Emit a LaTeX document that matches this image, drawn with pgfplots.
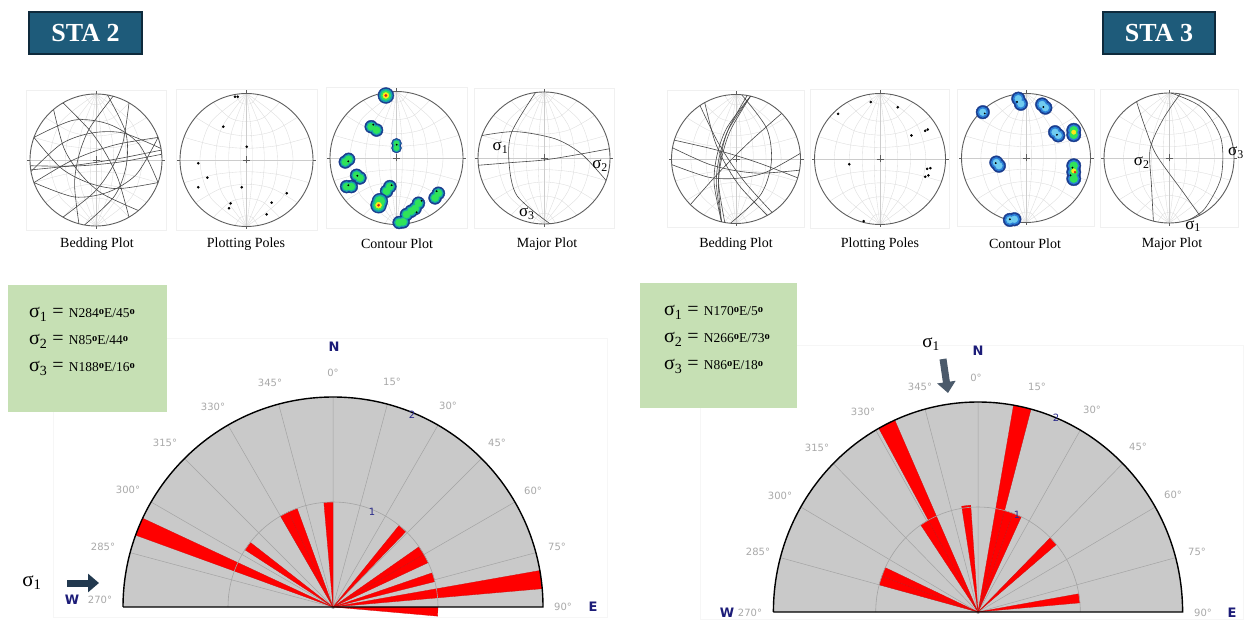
\documentclass[border=0pt]{standalone}
\usepackage{pgfplots}
\pgfplotsset{compat=1.18}
\usepackage{fontspec}
\setmainfont{Liberation Serif}
\newfontfamily\sansf{DejaVu Sans}
\usetikzlibrary{arrows.meta}
\definecolor{stabox}{HTML}{1E5B7A}
\definecolor{staborder}{HTML}{0E2A3C}
\definecolor{greenbox}{HTML}{C6E0B4}
\definecolor{rosefill}{HTML}{C9C9C9}
\definecolor{rosegrid}{HTML}{A4A4A4}
\definecolor{degcol}{HTML}{A9A9A9}
\definecolor{navy}{HTML}{1C1C78}
\definecolor{numcol}{HTML}{2A2A8A}
\definecolor{wedgered}{HTML}{FF0000}
\definecolor{wedgeedge}{HTML}{D01010}
\definecolor{primcol}{HTML}{5E5E5E}
\definecolor{gccol}{HTML}{474747}
\definecolor{netcol}{HTML}{DCDCDC}
\definecolor{netaxis}{HTML}{CCCCCC}
\definecolor{cA}{HTML}{1A3D8F}
\definecolor{cB}{HTML}{17A2B0}
\definecolor{cC}{HTML}{2FE35A}
\definecolor{cY}{HTML}{FFE919}
\definecolor{cR}{HTML}{E02020}
\definecolor{cBb}{HTML}{2B7FD8}
\definecolor{cCb}{HTML}{6FCBEF}
\definecolor{arrowA}{HTML}{22394F}
\definecolor{arrowB}{HTML}{4B5A6B}
\newcommand{\fs}[1]{\fontsize{#1}{#1}\selectfont}
\newcommand{\dg}{\raisebox{0.6ex}{\fs{10.5}\textbf{o}}}
\pgfplotsset{
  net/.style={anchor=origin, x=#1pt, y=#1pt, xmin=-1.08, xmax=1.08, ymin=-1.08, ymax=1.08, hide axis, clip=false},
  gc/.style={gccol, line width=0.6pt, smooth},
  nl/.style={netcol, line width=0.35pt, smooth},
  wedge/.style={fill=wedgered, draw=wedgeedge, line width=0.3pt, data cs=polar},
}
\newcommand{\wulffnet}{%
\addplot[nl] coordinates {(0,1) (0.0725,0.4168) (0.0875,0) (0.0725,-0.4168) (0,-1)};
\addplot[nl] coordinates {(0,1) (0.2193,0.4385) (0.268,0) (0.2193,-0.4385) (0,-1)};
\addplot[nl] coordinates {(0,1) (0.3724,0.4861) (0.466,0) (0.3724,-0.4861) (0,-1)};
\addplot[nl] coordinates {(0,1) (0.5352,0.5694) (0.700,0) (0.5352,-0.5694) (0,-1)};
\addplot[nl] coordinates {(0,1) (-0.0725,0.4168) (-0.0875,0) (-0.0725,-0.4168) (0,-1)};
\addplot[nl] coordinates {(0,1) (-0.2193,0.4385) (-0.268,0) (-0.2193,-0.4385) (0,-1)};
\addplot[nl] coordinates {(0,1) (-0.3724,0.4861) (-0.466,0) (-0.3724,-0.4861) (0,-1)};
\addplot[nl] coordinates {(0,1) (-0.5352,0.5694) (-0.700,0) (-0.5352,-0.5694) (0,-1)};
\addplot[nl] coordinates {(-0.940,0.342) (-0.47,0.2175) (0,0.176) (0.47,0.2175) (0.940,0.342)};
\addplot[nl] coordinates {(-0.766,0.643) (-0.383,0.427) (0,0.364) (0.383,0.427) (0.766,0.643)};
\addplot[nl] coordinates {(-0.5,0.866) (-0.25,0.634) (0,0.577) (0.25,0.634) (0.5,0.866)};
\addplot[nl] coordinates {(-0.1736,0.985) (-0.0868,0.862) (0,0.839) (0.0868,0.862) (0.1736,0.985)};
\addplot[nl] coordinates {(-0.940,-0.342) (-0.47,-0.2175) (0,-0.176) (0.47,-0.2175) (0.940,-0.342)};
\addplot[nl] coordinates {(-0.766,-0.643) (-0.383,-0.427) (0,-0.364) (0.383,-0.427) (0.766,-0.643)};
\addplot[nl] coordinates {(-0.5,-0.866) (-0.25,-0.634) (0,-0.577) (0.25,-0.634) (0.5,-0.866)};
\addplot[nl] coordinates {(-0.1736,-0.985) (-0.0868,-0.862) (0,-0.839) (0.0868,-0.862) (0.1736,-0.985)};
\addplot[netaxis, line width=0.4pt] coordinates {(0,-1) (0,1)};
\addplot[netaxis, line width=0.4pt] coordinates {(-1,0) (1,0)};
}
\newcommand{\netframe}[1]{%
\draw[gray!12, line width=0.5pt] (axis cs:-1.06,-1.06) rectangle (axis cs:1.06,1.06);
\wulffnet
\draw[primcol, line width=0.9pt] (axis cs:0,0) circle[radius=#1pt];
\draw[primcol, line width=0.5pt] (axis cs:0,1) -- ++(0pt,3pt);
\draw[primcol, line width=0.5pt] (axis cs:0,-1) -- ++(0pt,-3pt);
\draw[primcol, line width=0.5pt] (axis cs:1,0) -- ++(3pt,0pt);
\draw[primcol, line width=0.5pt] (axis cs:-1,0) -- ++(-3pt,0pt);
\draw[primcol, line width=0.6pt] (axis cs:0,0) ++(-3.5pt,0pt) -- ++(7pt,0pt);
\draw[primcol, line width=0.6pt] (axis cs:0,0) ++(0pt,-3.5pt) -- ++(0pt,7pt);
}
\newcommand{\blobs}[7]{%
\addplot[only marks, mark=*, color=#2, mark size=#5pt] coordinates {#1};
\addplot[only marks, mark=*, color=#3, mark size=#6pt] coordinates {#1};
\addplot[only marks, mark=*, color=#4, mark size=#7pt] coordinates {#1};
}
\newcommand{\rosebase}[4]{% rx ry rx/2 ry/2
\fill[rosefill] (axis cs:2,0) arc[start angle=0, end angle=180, x radius=#1pt, y radius=#2pt] -- cycle;
\addplot[rosegrid, line width=0.5pt, data cs=polar] coordinates {(15,2) (0,0) (30,2) (0,0) (45,2) (0,0) (60,2) (0,0) (75,2) (0,0) (90,2) (0,0) (105,2) (0,0) (120,2) (0,0) (135,2) (0,0) (150,2) (0,0) (165,2)};
}
\newcommand{\rosetop}[4]{%
\draw[rosegrid, line width=0.6pt] (axis cs:1,0) arc[start angle=0, end angle=180, x radius=#3pt, y radius=#4pt];
\draw[black, line width=1.4pt] (axis cs:-2,0) -- (axis cs:2,0) arc[start angle=0, end angle=180, x radius=#1pt, y radius=#2pt];
}
\newcommand{\dl}[3]{\node[font=\sansf\fs{10}, text=degcol] at (#1,#2) {#3°};}
\begin{document}
\begin{tikzpicture}[x=1pt,y=1pt]
\path[use as bounding box, fill=white] (0,0) rectangle (1246,621);
% ---------- headers ----------
\node[fill=stabox, draw=staborder, line width=2pt, text=white, font=\bfseries\fs{26}, minimum width=113pt, minimum height=42pt, inner sep=0pt] at (85.5,588) {STA 2};
\node[fill=stabox, draw=staborder, line width=2pt, text=white, font=\bfseries\fs{26}, minimum width=112pt, minimum height=42pt, inner sep=0pt] at (1159,588) {STA 3};
% ---------- STA 2 stereonets ----------
\begin{axis}[net=66, at={(96pt,461pt)}]
\netframe{66}
\addplot[gc] coordinates {(-0.989,-0.15) (-0.406,-0.091) (0.005,-0.035) (0.414,0.034) (0.989,0.15)};
\addplot[gc] coordinates {(-0.996,-0.087) (-0.409,-0.094) (0.006,-0.070) (0.419,-0.022) (0.996,0.087)};
\addplot[gc] coordinates {(0.940,-0.342) (0.646,0.246) (0.197,0.542) (-0.336,0.604) (-0.940,0.342)};
\addplot[gc] coordinates {(0.985,0.174) (0.406,0.410) (-0.072,0.408) (-0.522,0.246) (-0.985,-0.174)};
\addplot[gc] coordinates {(0.259,0.966) (-0.098,0.480) (-0.259,0.069) (-0.325,-0.367) (-0.259,-0.966)};
\addplot[gc] coordinates {(-0.174,-0.985) (0.282,-0.544) (0.459,-0.081) (0.451,0.414) (0.174,0.985)};
\addplot[gc] coordinates {(0.5,-0.866) (0.338,-0.295) (0.153,0.088) (-0.087,0.441) (-0.5,0.866)};
\addplot[gc] coordinates {(-0.940,-0.342) (-0.332,-0.559) (0.178,-0.489) (0.614,-0.215) (0.940,0.342)};
\addplot[gc] coordinates {(-0.643,0.766) (-0.485,0.178) (-0.242,-0.203) (0.091,-0.508) (0.643,-0.766)};
\addplot[gc] coordinates {(-0.940,0.342) (-0.532,-0.120) (-0.1245,-0.342) (0.330,-0.434) (0.940,-0.342)};
\addplot[gc] coordinates {(0.940,0.342) (0.358,0.246) (-0.045,0.124) (-0.432,-0.041) (-0.940,-0.342)};
\addplot[gc] coordinates {(-0.5,-0.866) (-0.029,-0.489) (0.232,-0.134) (0.409,0.270) (0.5,0.866)};
\end{axis}
\begin{axis}[net=66.5, at={(246.5pt,461pt)}]
\netframe{66.5}
\addplot[only marks, mark=*, black, mark size=1.1pt] coordinates {(-0.173,0.952) (-0.131,0.952) (-0.349,0.501) (0.003,0.2) (-0.725,-0.05) (-0.589,-0.266) (-0.725,-0.41) (-0.073,-0.41) (0.604,-0.5) (0.378,-0.642) (-0.238,-0.652) (-0.263,-0.727) (0.303,-0.817)};
\end{axis}
\begin{axis}[net=66.5, at={(396.5pt,463pt)}]
\netframe{66.5}
\blobs{(-0.38,0.47) (-0.30,0.42) (-0.77,-0.06) (-0.72,-0.02) (-0.6,-0.26) (-0.55,-0.30) (-0.75,-0.43) (-0.68,-0.43) (-0.1,-0.43) (-0.15,-0.5) (0.63,-0.53) (0.58,-0.60) (0.28,-0.76) (0.22,-0.80) (0.33,-0.68) (0.15,-0.85) (0.1,-0.96) (0.04,-0.97)}{cA}{cB}{cC}{6.5}{5}{3.6}
\blobs{(0,0.22) (0,0.15)}{cA}{cB}{cC}{5}{3.8}{2.6}
\blobs{(-0.16,0.94) (-0.27,-0.71) (-0.25,-0.65)}{cA}{cB}{cC}{8}{6.5}{5}
\addplot[only marks, mark=*, color=cY, mark size=3pt] coordinates {(-0.16,0.94) (-0.27,-0.71)};
\addplot[only marks, mark=*, color=cR, mark size=1.2pt] coordinates {(-0.16,0.94) (-0.27,-0.71)};
\addplot[only marks, mark=*, black, mark size=0.7pt] coordinates {(-0.349,0.501) (0.003,0.2) (-0.725,-0.05) (-0.589,-0.266) (-0.725,-0.41) (-0.073,-0.41) (0.604,-0.5) (0.378,-0.642) (0.303,-0.817)};
\end{axis}
\begin{axis}[net=66, at={(544pt,463pt)}]
\netframe{66}
\addplot[gc] coordinates {(-0.13,0.99) (-0.49,0.39) (-0.53,-0.07) (-0.41,-0.57) (0.09,-0.996)};
\addplot[gc] coordinates {(-0.94,0.34) (-0.43,0.40) (0.17,0.29) (0.57,0.06) (0.94,-0.34)};
\addplot[gc] coordinates {(-0.99,-0.11) (-0.5,-0.07) (0,-0.03) (0.5,0.05) (0.99,0.14)};
\node[font=\fs{17}] at (axis cs:-0.66,0.16) {σ\textsubscript{1}};
\node[font=\fs{17}] at (axis cs:0.85,-0.12) {σ\textsubscript{2}};
\node[font=\fs{17}] at (axis cs:-0.26,-0.84) {σ\textsubscript{3}};
\end{axis}
% ---------- STA 3 stereonets ----------
\begin{axis}[net=64.5, at={(736pt,462pt)}]
\netframe{64.5}
\addplot[gc] coordinates {(0.225,0.974) (-0.079,0.460) (-0.214,0.050) (-0.273,-0.379) (-0.225,-0.974)};
\addplot[gc] coordinates {(0.225,0.974) (-0.109,0.473) (-0.253,0.059) (-0.305,-0.378) (-0.225,-0.974)};
\addplot[gc] coordinates {(0.225,0.974) (-0.139,0.488) (-0.292,0.068) (-0.339,-0.378) (-0.225,-0.974)};
\addplot[gc] coordinates {(0.174,0.985) (-0.118,0.462) (-0.236,0.042) (-0.269,-0.393) (-0.174,-0.985)};
\addplot[gc] coordinates {(0.707,0.707) (0.268,0.319) (-0.031,0.031) (-0.319,-0.268) (-0.707,-0.707)};
\addplot[gc] coordinates {(-0.485,0.875) (-0.336,0.300) (-0.158,-0.087) (0.076,-0.444) (0.485,-0.875)};
\addplot[gc] coordinates {(-0.559,0.829) (-0.302,0.300) (-0.083,-0.056) (0.165,-0.393) (0.559,-0.829)};
\addplot[gc] coordinates {(0.956,-0.292) (0.409,-0.082) (0.015,0.048) (-0.385,0.161) (-0.956,0.292)};
\addplot[gc] coordinates {(-0.996,-0.087) (-0.422,-0.283) (0.026,-0.299) (0.464,-0.205) (0.996,0.087)};
\addplot[gc] coordinates {(-0.985,0.174) (-0.445,-0.072) (-0.031,-0.177) (0.393,-0.220) (0.985,-0.174)};
\addplot[gc] coordinates {(-0.087,-0.996) (0.386,-0.548) (0.548,-0.048) (0.476,0.473) (0.087,0.996)};
\end{axis}
\begin{axis}[net=65.5, at={(880pt,462pt)}]
\netframe{65.5}
\addplot[only marks, mark=*, black, mark size=1.1pt] coordinates {(-0.64,0.69) (-0.14,0.87) (0.27,0.79) (0.48,0.36) (0.69,0.43) (0.73,0.45) (-0.47,-0.08) (0.72,-0.15) (0.77,-0.14) (0.69,-0.27) (0.74,-0.25) (-0.25,-0.95)};
\end{axis}
\begin{axis}[net=64.5, at={(1026pt,463pt)}]
\netframe{64.5}
\blobs{(-0.12,0.92) (-0.08,0.84) (-0.67,0.71) (0.25,0.83) (0.30,0.78) (0.45,0.40) (0.50,0.35) (-0.46,-0.07) (-0.42,-0.12) (-0.25,-0.96) (-0.18,-0.95)}{cA}{cBb}{cCb}{6.8}{5.2}{3.4}
\blobs{(0.74,0.43) (0.74,0.36) (0.74,-0.12) (0.74,-0.22) (0.74,-0.32)}{cA}{cBb}{cC}{7.2}{5.6}{4}
\addplot[only marks, mark=*, color=cY, mark size=2.2pt] coordinates {(0.74,-0.2) (0.74,0.40)};
\addplot[only marks, mark=*, color=cR, mark size=1pt] coordinates {(0.76,-0.22)};
\addplot[only marks, mark=*, black, mark size=0.7pt] coordinates {(-0.64,0.69) (-0.14,0.87) (0.27,0.79) (0.48,0.36) (-0.47,-0.08) (0.72,-0.15) (0.69,-0.27) (-0.25,-0.95)};
\end{axis}
\begin{axis}[net=65, at={(1169pt,463pt)}]
\netframe{65}
\addplot[gc] coordinates {(-0.5,0.866) (-0.36,0.45) (-0.19,0.04) (0.22,-0.53) (0.47,-0.88)};
\addplot[gc] coordinates {(0.17,0.985) (-0.09,0.6) (-0.29,0.14) (-0.27,-0.42) (-0.24,-0.97)};
\addplot[gc] coordinates {(0.03,1.0) (0.5,0.78) (0.80,0.30) (0.80,-0.30) (0.55,-0.78) (0.3,-0.954)};
\node[font=\fs{17}] at (axis cs:-0.42,-0.07) {σ\textsubscript{2}};
\node[font=\fs{17}] at (axis cs:1.03,0.08) {σ\textsubscript{3}};
\node[font=\fs{17}] at (axis cs:0.37,-1.05) {σ\textsubscript{1}};
\end{axis}
% ---------- net labels ----------
\node[font=\fs{14}] at (97,377) {Bedding Plot};
\node[font=\fs{14}] at (246,377) {Plotting Poles};
\node[font=\fs{14}] at (397,377) {Contour Plot};
\node[font=\fs{14}] at (547,377) {Major Plot};
\node[font=\fs{14}] at (736,377) {Bedding Plot};
\node[font=\fs{14}] at (880,377) {Plotting Poles};
\node[font=\fs{14}] at (1025,377) {Contour Plot};
\node[font=\fs{14}] at (1172,377) {Major Plot};
% ---------- rose frames ----------
\draw[gray!7, line width=0.6pt] (53,4) rectangle (607,283);
\draw[gray!7, line width=0.6pt] (700,2) rectangle (1243,276);
% ---------- STA 2 rose ----------
\begin{axis}[anchor=origin, at={(333pt,14pt)}, x=105pt, y=105pt, xmin=-2, xmax=2, ymin=0, ymax=2, hide axis, clip=false]
\rosebase{210}{210}{105}{105}
\addplot[wedge] coordinates {(0,0) (155,2) (160,2) (0,0)};
\addplot[wedge] coordinates {(0,0) (142,1) (147,1) (0,0)};
\addplot[wedge] coordinates {(0,0) (115,1) (120,1) (0,0)};
\addplot[wedge] coordinates {(0,0) (110,1) (115,1) (0,0)};
\addplot[wedge] coordinates {(0,0) (90,1) (95,1) (0,0)};
\addplot[wedge] coordinates {(0,0) (46,1) (51,1) (0,0)};
\addplot[wedge] coordinates {(0,0) (30,1) (35,1) (0,0)};
\addplot[wedge] coordinates {(0,0) (25,1) (30,1) (0,0)};
\addplot[wedge] coordinates {(0,0) (14,1) (19,1) (0,0)};
\addplot[wedge] coordinates {(0,0) (5,2) (10,2) (0,0)};
\addplot[wedge] coordinates {(0,0) (-5,1) (0,1) (0,0)};
\rosetop{210}{210}{105}{105}
\end{axis}
% ---------- STA 3 rose ----------
\begin{axis}[anchor=origin, at={(978pt,9pt)}, x=102.3pt, y=105pt, xmin=-2, xmax=2, ymin=0, ymax=2, hide axis, clip=false]
\rosebase{204.6}{210}{102.3}{105}
\addplot[wedge] coordinates {(0,0) (160,1) (165,1) (0,0)};
\addplot[wedge] coordinates {(0,0) (155,1) (160,1) (0,0)};
\addplot[wedge] coordinates {(0,0) (119,1) (124,1) (0,0)};
\addplot[wedge] coordinates {(0,0) (114,2) (119,2) (0,0)};
\addplot[wedge] coordinates {(0,0) (94,1.02) (99,1.02) (0,0)};
\addplot[wedge] coordinates {(0,0) (70,1) (75,1) (0,0)};
\addplot[wedge] coordinates {(0,0) (65,1) (70,1) (0,0)};
\addplot[wedge] coordinates {(0,0) (75,2) (80,2) (0,0)};
\addplot[wedge] coordinates {(0,0) (40,1) (45,1) (0,0)};
\addplot[wedge] coordinates {(0,0) (5,1) (10,1) (0,0)};
\rosetop{204.6}{210}{102.3}{105}
\end{axis}
% ---------- rose labels STA 2 ----------
\dl{333}{248}{0}\dl{392}{239}{15}\dl{448}{215}{30}\dl{497}{178}{45}\dl{533}{130}{60}\dl{557}{74}{75}\dl{563}{14}{90}
\dl{270}{238}{345}\dl{213}{214}{330}\dl{165}{178}{315}\dl{128}{131}{300}\dl{103}{74}{285}\dl{100}{21}{270}
\node[font=\sansf\bfseries\fs{13}, text=navy] at (334,274) {N};
\node[font=\sansf\bfseries\fs{13}, text=navy] at (72,21) {W};
\node[font=\sansf\bfseries\fs{13}, text=navy] at (593,14) {E};
\node[font=\sansf\fs{10}, text=numcol] at (372,109) {1};
\node[font=\sansf\fs{10}, text=numcol] at (412,206) {2};
% ---------- rose labels STA 3 ----------
\dl{976}{243}{0}\dl{1037}{234}{15}\dl{1092}{211}{30}\dl{1138}{174}{45}\dl{1173}{126}{60}\dl{1197}{69}{75}\dl{1203}{8}{90}
\dl{920}{234}{345}\dl{863}{209}{330}\dl{817}{173}{315}\dl{780}{125}{300}\dl{758}{69}{285}\dl{750}{8}{270}
\node[font=\sansf\bfseries\fs{13}, text=navy] at (978,270) {N};
\node[font=\sansf\bfseries\fs{13}, text=navy] at (727,8) {W};
\node[font=\sansf\bfseries\fs{13}, text=navy] at (1232,8) {E};
\node[font=\sansf\fs{10}, text=numcol] at (1017,106) {1};
\node[font=\sansf\fs{10}, text=numcol] at (1056,203) {2};
% ---------- green boxes ----------
\fill[greenbox] (8,209) rectangle (167,336);
\fill[greenbox] (640,213) rectangle (797,338);
\node[anchor=base west, inner sep=0pt] at (29,303) {\fs{20}σ\textsubscript{1} = \fs{13.5}N284\dg E/45\dg};
\node[anchor=base west, inner sep=0pt] at (29,276) {\fs{20}σ\textsubscript{2} = \fs{13.5}N85\dg E/44\dg};
\node[anchor=base west, inner sep=0pt] at (29,249) {\fs{20}σ\textsubscript{3} = \fs{13.5}N188\dg E/16\dg};
\node[anchor=base west, inner sep=0pt] at (664,305) {\fs{20}σ\textsubscript{1} = \fs{13.5}N170\dg E/5\dg};
\node[anchor=base west, inner sep=0pt] at (664,278) {\fs{20}σ\textsubscript{2} = \fs{13.5}N266\dg E/73\dg};
\node[anchor=base west, inner sep=0pt] at (664,251) {\fs{20}σ\textsubscript{3} = \fs{13.5}N86\dg E/18\dg};
% ---------- sigma arrows ----------
\node[font=\fs{21}] at (32,38) {σ\textsubscript{1}};
\draw[arrowA, line width=7pt, -{Triangle[length=11pt,width=18pt]}] (67,38) -- (99,38);
\node[font=\fs{19}] at (931,277) {σ\textsubscript{1}};
\draw[arrowB, line width=7pt, -{Triangle[length=11pt,width=18pt]}] (943,262) -- (948,228);
\end{tikzpicture}
\end{document}
